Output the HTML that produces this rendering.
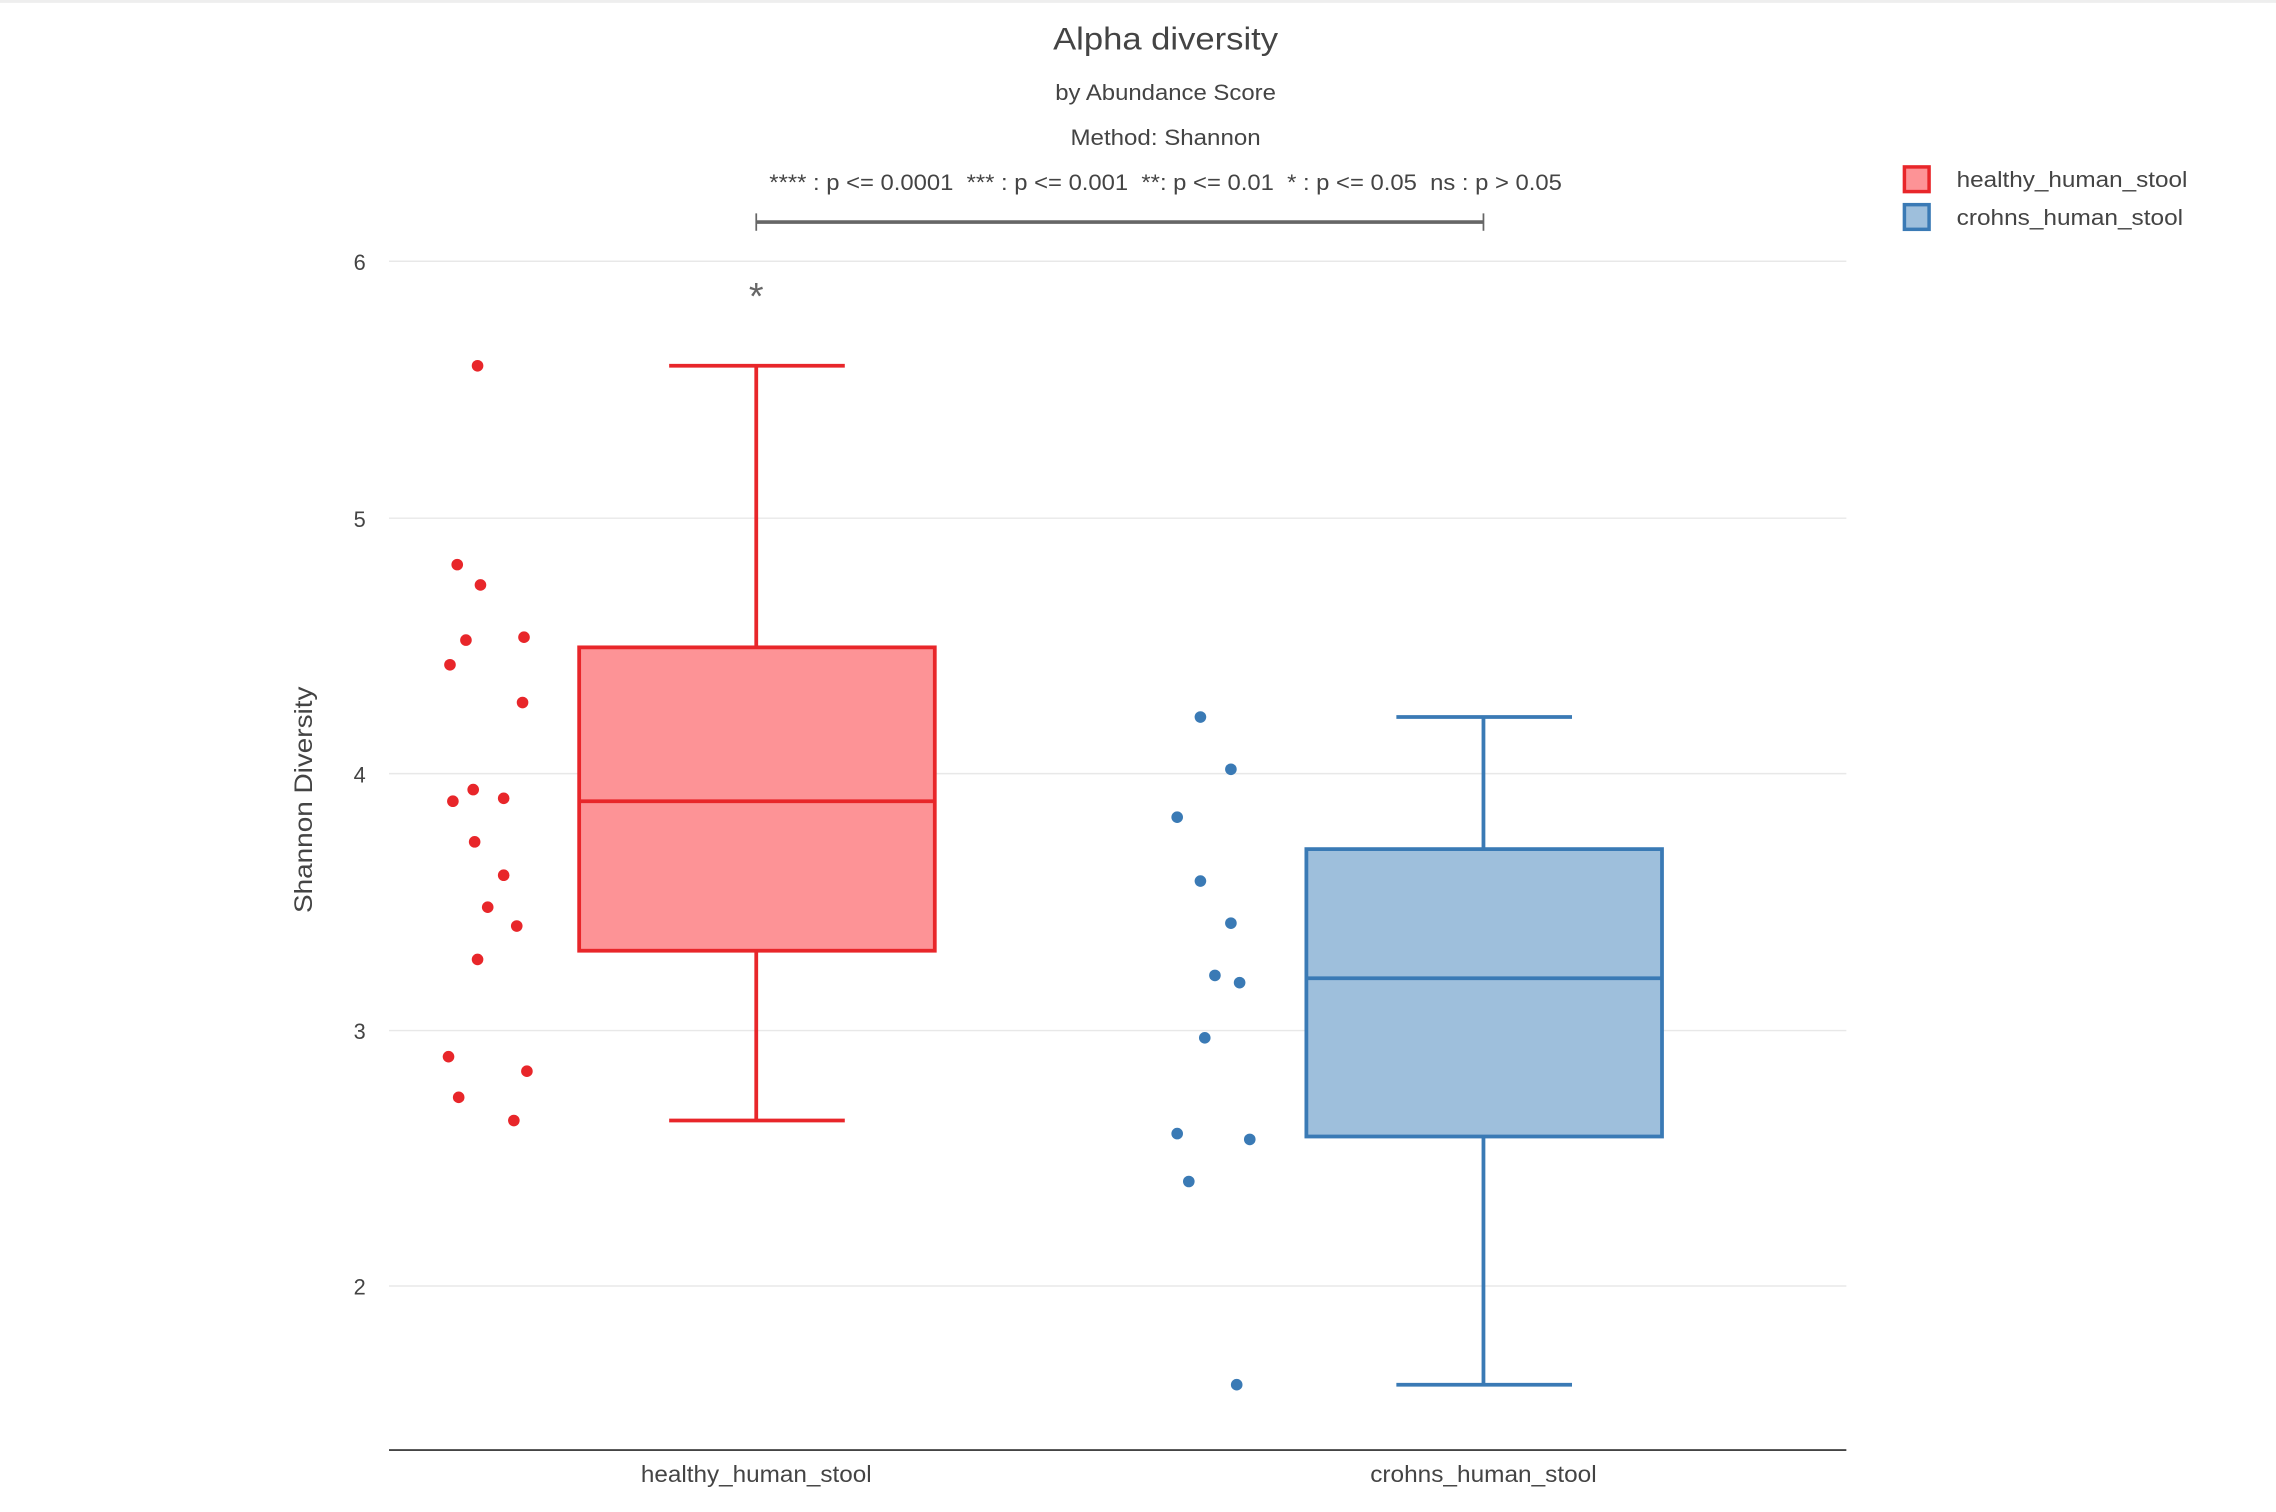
<!DOCTYPE html>
<html><head><meta charset="utf-8"><style>
html,body{margin:0;padding:0;background:#fff;}
svg{display:block;font-family:"Liberation Sans",sans-serif;}
</style></head><body>
<svg width="2276" height="1512" viewBox="0 0 1568 1041.7" preserveAspectRatio="none">
<rect x="0" y="0" width="1568" height="1041.7" fill="#fff"/>
<rect x="0" y="0" width="1568" height="2" fill="#eee"/>
<g stroke="#e8e8e8" stroke-width="1">
<line x1="268" x2="1272" y1="180" y2="180"/><line x1="268" x2="1272" y1="357" y2="357"/>
<line x1="268" x2="1272" y1="533" y2="533"/><line x1="268" x2="1272" y1="710" y2="710"/>
<line x1="268" x2="1272" y1="886" y2="886"/>
</g>
<line x1="268" x2="1272" y1="999" y2="999" stroke="#444" stroke-width="1.3"/>
<g font-size="15" fill="#444" text-anchor="end">
<text x="252" y="186">6</text><text x="252" y="363">5</text><text x="252" y="539">4</text><text x="252" y="716">3</text><text x="252" y="892">2</text>
</g>
<text x="215" y="551" font-size="17" fill="#444" text-anchor="middle" textLength="156" lengthAdjust="spacingAndGlyphs" transform="rotate(-90 215 551)">Shannon Diversity</text>
<g font-size="16" fill="#444" text-anchor="middle">
<text x="521" y="1021" textLength="159" lengthAdjust="spacingAndGlyphs">healthy_human_stool</text><text x="1022" y="1021" textLength="156" lengthAdjust="spacingAndGlyphs">crohns_human_stool</text>
</g>
<text x="803" y="34" font-size="22" fill="#444" text-anchor="middle" textLength="155" lengthAdjust="spacingAndGlyphs">Alpha diversity</text>
<text x="803" y="69" font-size="15" fill="#444" text-anchor="middle" textLength="152" lengthAdjust="spacingAndGlyphs">by Abundance Score</text>
<text x="803" y="100" font-size="15" fill="#444" text-anchor="middle" textLength="131" lengthAdjust="spacingAndGlyphs">Method: Shannon</text>
<text x="803" y="131" font-size="15" fill="#444" text-anchor="middle" textLength="546" lengthAdjust="spacingAndGlyphs" xml:space="preserve">**** : p &lt;= 0.0001  *** : p &lt;= 0.001  **: p &lt;= 0.01  * : p &lt;= 0.05  ns : p &gt; 0.05</text>
<g stroke="#666" stroke-width="2.5"><line x1="521" x2="1022" y1="153" y2="153"/></g>
<g stroke="#666" stroke-width="1.2"><line x1="521" x2="521" y1="147" y2="159"/><line x1="1022" x2="1022" y1="147" y2="159"/></g>
<text x="521" y="213" font-size="26" fill="#666" text-anchor="middle">*</text>
<g stroke="#e8262a" stroke-width="2.6" fill="none">
<line x1="521" x2="521" y1="252" y2="446"/><line x1="521" x2="521" y1="655" y2="772"/>
<line x1="461" x2="582" y1="252" y2="252"/><line x1="461" x2="582" y1="772" y2="772"/>
<rect x="399" y="446" width="245" height="209" fill="#fd9396"/>
<line x1="399" x2="644" y1="552" y2="552"/>
</g>
<g stroke="#3a7ab5" stroke-width="2.6" fill="none">
<line x1="1022" x2="1022" y1="494" y2="585"/><line x1="1022" x2="1022" y1="783" y2="954"/>
<line x1="962" x2="1083" y1="494" y2="494"/><line x1="962" x2="1083" y1="954" y2="954"/>
<rect x="900" y="585" width="245" height="198" fill="#9ebfdc"/>
<line x1="900" x2="1145" y1="674" y2="674"/>
</g>
<g fill="#e8262a">
<circle cx="329" cy="252" r="4"/><circle cx="315" cy="389" r="4"/><circle cx="331" cy="403" r="4"/><circle cx="321" cy="441" r="4"/><circle cx="361" cy="439" r="4"/><circle cx="310" cy="458" r="4"/><circle cx="360" cy="484" r="4"/><circle cx="326" cy="544" r="4"/><circle cx="312" cy="552" r="4"/><circle cx="347" cy="550" r="4"/><circle cx="327" cy="580" r="4"/><circle cx="347" cy="603" r="4"/><circle cx="336" cy="625" r="4"/><circle cx="356" cy="638" r="4"/><circle cx="329" cy="661" r="4"/><circle cx="309" cy="728" r="4"/><circle cx="363" cy="738" r="4"/><circle cx="316" cy="756" r="4"/><circle cx="354" cy="772" r="4"/>
</g>
<g fill="#3a7ab5">
<circle cx="827" cy="494" r="4"/><circle cx="848" cy="530" r="4"/><circle cx="811" cy="563" r="4"/><circle cx="827" cy="607" r="4"/><circle cx="848" cy="636" r="4"/><circle cx="837" cy="672" r="4"/><circle cx="854" cy="677" r="4"/><circle cx="830" cy="715" r="4"/><circle cx="811" cy="781" r="4"/><circle cx="861" cy="785" r="4"/><circle cx="819" cy="814" r="4"/><circle cx="852" cy="954" r="4"/>
</g>
<rect x="1312" y="115" width="17" height="17" fill="#fd9396" stroke="#e8262a" stroke-width="2.4"/>
<rect x="1312" y="141" width="17" height="17" fill="#9ebfdc" stroke="#3a7ab5" stroke-width="2.4"/>
<g font-size="15" fill="#444">
<text x="1348" y="129" textLength="159" lengthAdjust="spacingAndGlyphs">healthy_human_stool</text><text x="1348" y="155" textLength="156" lengthAdjust="spacingAndGlyphs">crohns_human_stool</text>
</g>
</svg>
</body></html>
